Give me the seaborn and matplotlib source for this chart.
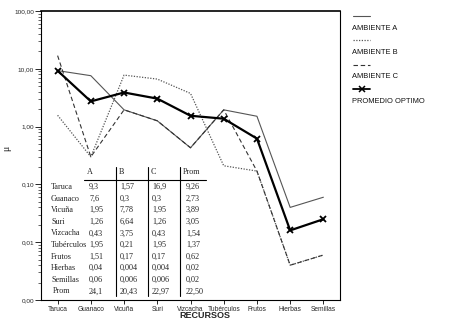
import matplotlib
matplotlib.use("Agg")
import matplotlib.pyplot as plt
import seaborn as sns
import pandas as pd
from matplotlib.lines import Line2D
from matplotlib.ticker import LogLocator, NullFormatter

categories = ["Taruca", "Guanaco", "Vicuña", "Suri", "Vizcacha",
              "Tubérculos", "Frutos", "Hierbas", "Semillas"]
tick_labels = ["Taruca", "Guanaco", "Vicuña", "Suri", "Vizcacha",
               "Tubérculos", "Frutos", "Hierbas", "Semillas"]
amb_a = [9.3, 7.6, 1.95, 1.26, 0.43, 1.95, 1.51, 0.04, 0.06]
amb_b = [1.57, 0.3, 7.78, 6.64, 3.75, 0.21, 0.17, 0.004, 0.006]
amb_c = [16.9, 0.3, 1.95, 1.26, 0.43, 1.95, 0.17, 0.004, 0.006]
prom = [9.26, 2.73, 3.89, 3.05, 1.54, 1.37, 0.62, 0.016, 0.025]

tab_a = ["9,3", "7,6", "1,95", "1,26", "0,43", "1,95", "1,51", "0,04", "0,06", "24,1"]
tab_b = ["1,57", "0,3", "7,78", "6,64", "3,75", "0,21", "0,17", "0,004", "0,006", "20,43"]
tab_c = ["16,9", "0,3", "1,95", "1,26", "0,43", "1,95", "0,17", "0,004", "0,006", "22,97"]
tab_p = ["9,26", "2,73", "3,89", "3,05", "1,54", "1,37", "0,62", "0,02", "0,02", "22,50"]
tab_rows = ["Taruca", "Guanaco", "Vicuña", "Suri", "Vizcacha", "Tubérculos",
            "Frutos", "Hierbas", "Semillas", "Prom"]
tab_head = ["A", "B", "C", "Prom"]

yticks = [0.001, 0.01, 0.1, 1, 10, 100]
ytick_labels = ["0,00", "0,01", "0,10", "1,00", "10,00", "100,00"]

sns.set_theme(style="white")
plt.rcParams['font.family'] = ['Liberation Sans', 'DejaVu Sans']

W, H = 450, 328
fig = plt.figure(figsize=(W / 100, H / 100), dpi=100)
L, R, T, B = 41, 340, 11, 300
ax = fig.add_axes([L / W, 1 - B / H, (R - L) / W, (B - T) / H])

df = pd.DataFrame({"cat": categories, "A": amb_a, "B": amb_b, "C": amb_c, "P": prom})
sns.lineplot(data=df, x="cat", y="A", ax=ax, color="#555555", lw=0.8, sort=False)
sns.lineplot(data=df, x="cat", y="B", ax=ax, color="#555555", lw=0.9, sort=False,
             linestyle=(0, (1, 1.2)))
sns.lineplot(data=df, x="cat", y="C", ax=ax, color="#333333", lw=0.8, sort=False,
             linestyle=(0, (4, 2.5)))
sns.lineplot(data=df, x="cat", y="P", ax=ax, color="black", lw=1.6, sort=False,
             marker="x", markersize=5, markeredgewidth=1.3, markeredgecolor="black")

ax.set_yscale("log")
ax.set_ylim(0.001, 100)
ax.set_xlim(-0.5, len(categories) - 0.5)
ax.set_yticks(yticks)
ax.set_yticklabels(ytick_labels)
ax.yaxis.set_minor_locator(LogLocator(base=10, subs=range(2, 10)))
ax.yaxis.set_minor_formatter(NullFormatter())
ax.set_xticks(range(len(categories)))
ax.set_xticklabels(tick_labels)
ax.tick_params(axis="y", which="major", direction="out", length=4, width=0.7,
               labelsize=4.6, pad=1, left=True)
ax.tick_params(axis="y", which="minor", direction="out", length=2, width=0.5, left=True)
ax.tick_params(axis="x", direction="out", length=3, width=0.7, labelsize=4.8, pad=1,
               bottom=True)
ax.set_xlabel("")
ax.set_ylabel("")
for s in ax.spines.values():
    s.set_color("black")
    s.set_linewidth(0.8)
ax.spines["top"].set_linewidth(1.2)
ax.grid(False)

def P(px, py):
    return px / W, 1 - py / H

fig.text(*P(205, 316), "RECURSOS", fontsize=6.5, fontweight="bold", ha="center", va="center")
fig.text(*P(7, 148), "μ", fontsize=7, rotation=90, ha="center", va="center",
         family=["Liberation Serif", "DejaVu Serif"])

# table
serif = ["Liberation Serif", "DejaVu Serif"]
fs = 5.9
ty0, dy = 187, 11.6
hx = [87, 119, 151, 183]
vx = [89, 120, 152, 186]
for j, h in enumerate(tab_head):
    fig.text(*P(hx[j], 172), h, fontsize=fs, family=serif, ha="left", va="center")
for i, rname in enumerate(tab_rows):
    y = ty0 + i * dy
    fig.text(*P(51 if i < 9 else 53, y), rname, fontsize=fs, family=serif, ha="left", va="center")
    for j, col in enumerate([tab_a, tab_b, tab_c, tab_p]):
        fig.text(*P(vx[j], y), col[i], fontsize=fs, family=serif, ha="left", va="center")
x0, y0 = P(84, 180)
x1, _ = P(206, 180)
fig.add_artist(Line2D([x0, x1], [y0, y0], color="black", lw=0.8))
for xv in [116, 148, 180]:
    a, b1 = P(xv, 167)
    _, b2 = P(xv, 296)
    fig.add_artist(Line2D([a, a], [b1, b2], color="black", lw=0.8))

# legend
leg = [("AMBIENTE A", dict(color="#555555", lw=0.8, ls="-")),
       ("AMBIENTE B", dict(color="#555555", lw=0.9, ls=(0, (1, 1.2)))),
       ("AMBIENTE C", dict(color="#333333", lw=0.8, ls=(0, (4, 2.5)))),
       ("PROMEDIO OPTIMO", dict(color="black", lw=1.3, ls="-", marker="x",
                                markersize=4, markeredgewidth=1.1))]
for k, (lab, kw) in enumerate(leg):
    ys = 15.5 + k * 24.5
    xa, ya = P(353, ys)
    xb, _ = P(370, ys)
    if "marker" in kw:
        fig.add_artist(Line2D([xa, xb], [ya, ya], color="black", lw=kw["lw"]))
        fig.add_artist(Line2D([(xa + xb) / 2], [ya], color="black", marker="x",
                              markersize=kw["markersize"], markeredgewidth=kw["markeredgewidth"],
                              ls="none"))
    else:
        fig.add_artist(Line2D([xa, xb], [ya, ya], **kw))
    fig.text(*P(352, ys + 12.5), lab, fontsize=5.4, ha="left", va="center", color="#111111")

fig.savefig("out.png", dpi=100)
